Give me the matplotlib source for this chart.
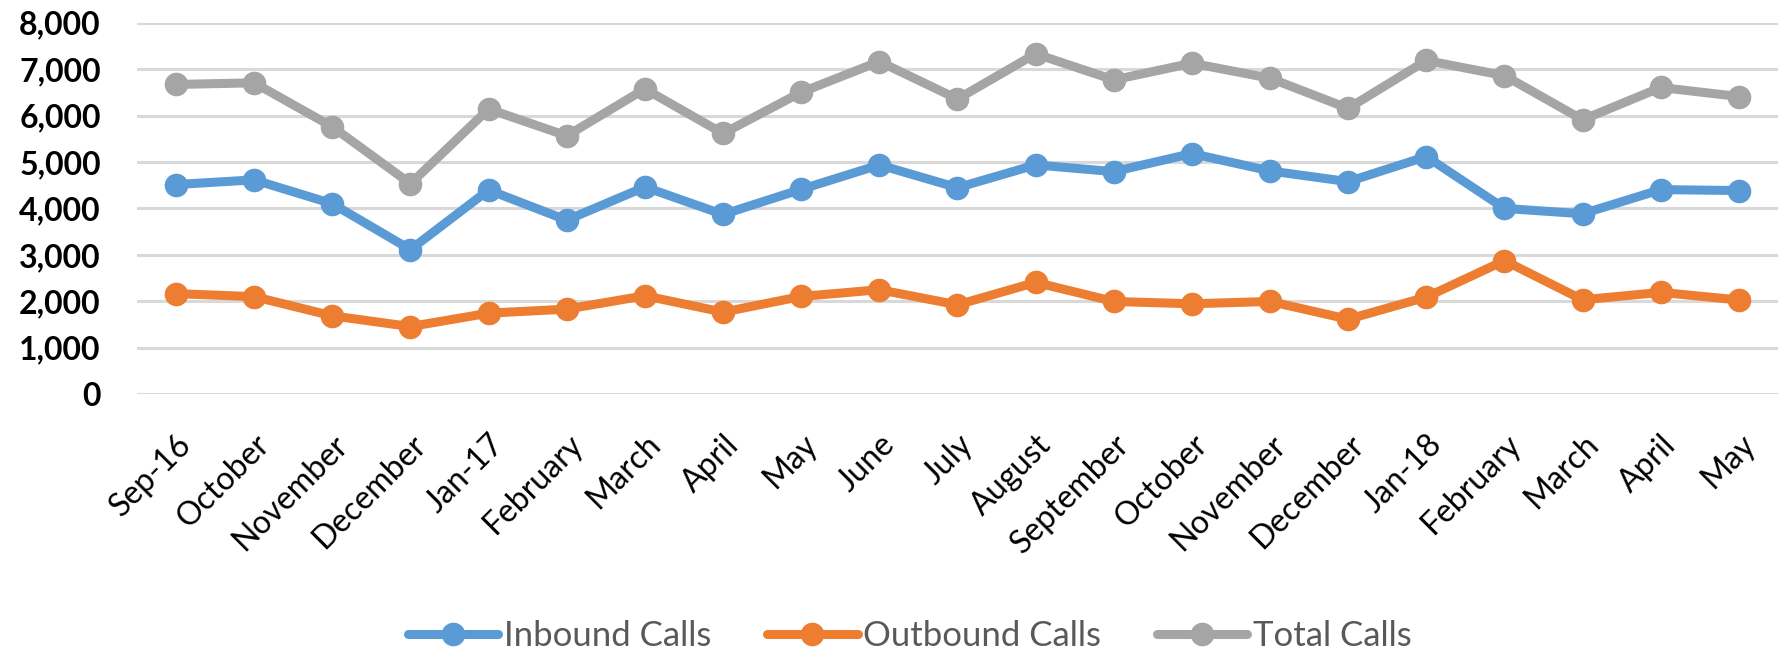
import matplotlib
matplotlib.use("Agg")
import matplotlib.pyplot as plt
import matplotlib.transforms as mtransforms
from matplotlib.ticker import FuncFormatter

plt.rcParams['font.family'] = ['Lato', 'DejaVu Sans']

months = ['Sep-16', 'October', 'November', 'December', 'Jan-17', 'February',
          'March', 'April', 'May', 'June', 'July', 'August', 'September',
          'October', 'November', 'December', 'Jan-18', 'February', 'March',
          'April', 'May']

inbound = [4515, 4615, 4101, 3114, 4396, 3748, 4461, 3870, 4411, 4937, 4447,
           4937, 4793, 5182, 4807, 4577, 5117, 4000, 3885, 4405, 4385]
outbound = [2165, 2100, 1686, 1456, 1744, 1831, 2119, 1766, 2104, 2249, 1924,
            2407, 1996, 1946, 1996, 1614, 2090, 2876, 2032, 2192, 2028]
total = [6670, 6705, 5759, 4533, 6141, 5564, 6573, 5614, 6501, 7164, 6357,
         7330, 6768, 7128, 6804, 6155, 7186, 6861, 5910, 6605, 6410]

series = [('Inbound Calls', inbound, '#5B9BD5'),
          ('Outbound Calls', outbound, '#ED7D31'),
          ('Total Calls', total, '#A5A5A5')]

fig = plt.figure(figsize=(17.81, 6.58), dpi=100)
ax = fig.add_axes([0.0769, 0.401, 0.9214, 0.5645])

x = list(range(len(months)))
for label, vals, color in series:
    ax.plot(x, vals, color=color, linewidth=6.5, marker='o', markersize=16,
            label=label, solid_capstyle='round', zorder=3)

ax.set_ylim(0, 8000)
ax.set_xlim(-0.5, len(months) - 0.5)
ax.set_yticks(range(0, 8001, 1000))
ax.yaxis.set_major_formatter(FuncFormatter(lambda v, p: f'{int(v):,}'))
ax.grid(axis='y', color='#D9D9D9', linewidth=2.2, zorder=0)
for s in ax.spines.values():
    s.set_visible(False)

ax.tick_params(axis='y', length=0, pad=26, labelsize=23)
for t in ax.get_yticklabels():
    t.set_fontweight('bold')

ax.set_xticks(x)
ax.set_xticklabels(months, rotation=45, ha='right', va='center',
                   rotation_mode='anchor', fontsize=23)
ax.tick_params(axis='x', length=0, pad=33)
shift = mtransforms.ScaledTranslation(11 / 100, 0, fig.dpi_scale_trans)
for t in ax.get_xticklabels():
    t.set_transform(t.get_transform() + shift)

leg = fig.legend(loc='center', bbox_to_anchor=(910 / 1781, 1 - 636 / 658),
                 ncol=3, frameon=False, fontsize=25, handlelength=2.6,
                 columnspacing=1.6, handletextpad=0.17)
for t in leg.get_texts():
    t.set_color('#595959')

fig.savefig('out.png', dpi=100)
